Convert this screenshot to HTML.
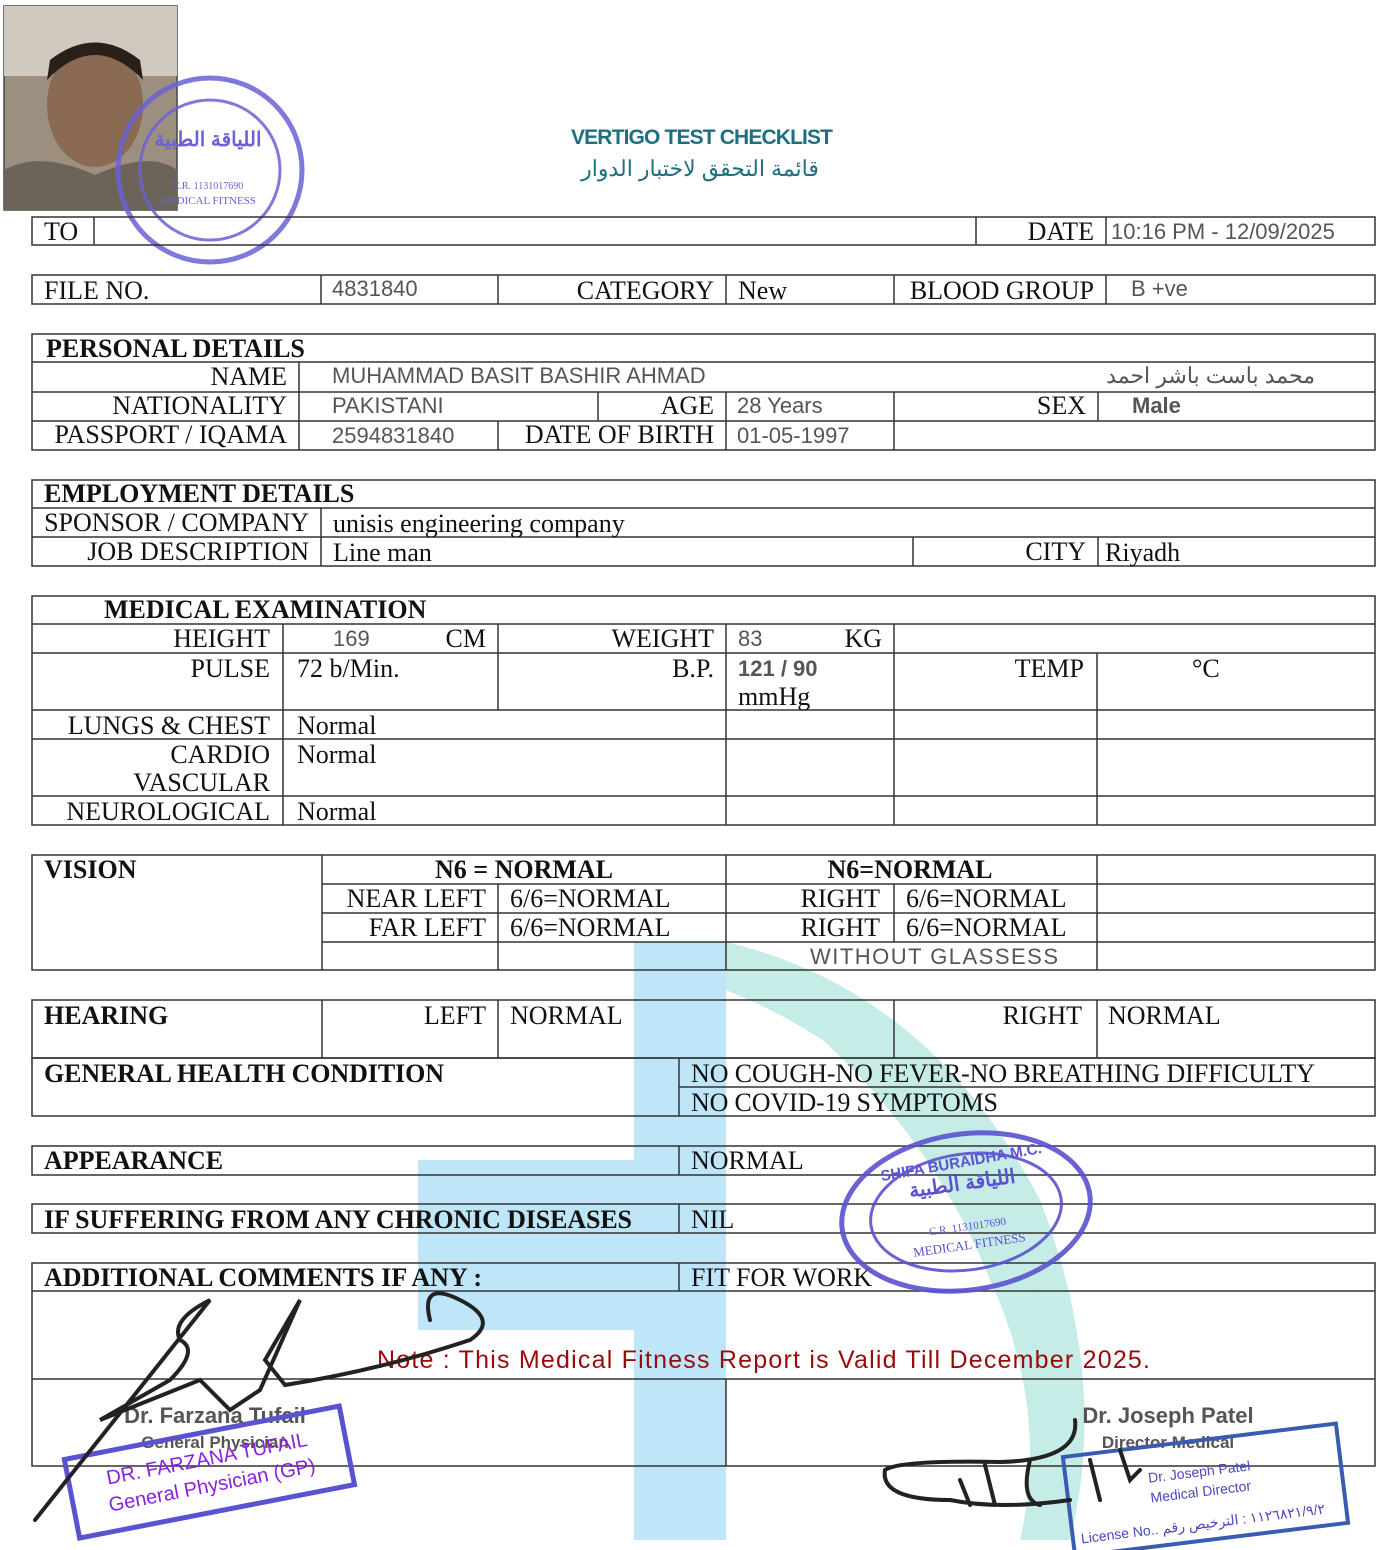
<!DOCTYPE html>
<html><head><meta charset="utf-8"><style>
html,body{margin:0;padding:0;background:#fff;}
svg{display:block}
.s{font-family:"Liberation Serif",serif;font-size:26px;fill:#111}
.b{font-weight:bold}
.v{font-family:"Liberation Sans",sans-serif;font-size:22px;fill:#555}
.ar{font-family:"Liberation Sans","Noto Sans CJK SC",sans-serif}
</style></head><body>
<svg width="1400" height="1550" viewBox="0 0 1400 1550" xmlns="http://www.w3.org/2000/svg">
<!-- watermark -->
<rect x="634" y="942" width="92" height="598" fill="#bfe6f8"/>
<rect x="418" y="1160" width="308" height="170" fill="#bfe6f8"/>
<path d="M726 942 Q930 990 1040 1200 Q1110 1380 1070 1540 L1040 1540 Q1070 1380 990 1220 Q900 1060 726 990 Z" fill="#c5ece6"/>
<path d="M820 1010 Q990 1150 1040 1300 Q1080 1420 1040 1540 L1020 1540 Q1050 1410 990 1280 Q930 1130 800 1020 Z" fill="#c5ece6"/>
<!-- photo -->
<rect x="4" y="6" width="173" height="204" fill="#9c8f80" stroke="#444" stroke-width="1.5"/>
<rect x="4" y="6" width="173" height="70" fill="#cfc9c0"/>
<ellipse cx="95" cy="105" rx="48" ry="62" fill="#8a6a52"/>
<path d="M47 80 Q95 30 143 80 L140 60 Q95 25 50 60 Z" fill="#2a201a"/>
<path d="M4 210 L4 170 Q40 150 95 175 Q150 150 177 170 L177 210 Z" fill="#6c6458"/>
<!-- top stamp -->
<g fill="none" stroke="#6a62d6" opacity="0.85">
<circle cx="210" cy="170" r="92" stroke-width="5"/>
<circle cx="210" cy="170" r="70" stroke-width="3"/>
</g>
<text x="208" y="146" text-anchor="middle" class="ar" font-size="20" fill="#6a62d6" font-weight="bold">اللياقة الطبية</text>
<text x="208" y="189" text-anchor="middle" font-family="Liberation Serif" font-size="10" fill="#6a62d6">C.R. 1131017690</text>
<text x="208" y="204" text-anchor="middle" font-family="Liberation Serif" font-size="11" fill="#6a62d6">MEDICAL FITNESS</text>
<!-- title -->
<text x="702" y="144" text-anchor="middle" font-family="Liberation Sans" font-weight="bold" font-size="21" fill="#1e6f80" textLength="262">VERTIGO TEST CHECKLIST</text>
<text x="700" y="176" text-anchor="middle" class="ar" font-size="22" fill="#1e6f80">قائمة التحقق لاختبار الدوار</text>

<g stroke="#333" stroke-width="1.5" fill="none">
<rect x="32" y="217" width="1343" height="28"/>
<path d="M94 217V245M976 217V245M1106 217V245"/>
<rect x="32" y="275" width="1343" height="29"/>
<path d="M321 275V304M498 275V304M726 275V304M894 275V304M1106 275V304"/>
<rect x="32" y="334" width="1343" height="116"/>
<path d="M32 362H1375M32 392H1375M32 421H1375M299 362V450M598 392V421M726 392V450M894 392V450M1098 392V421M498 421V450"/>
<rect x="32" y="480" width="1343" height="86"/>
<path d="M32 508H1375M32 537H1375M321 508V566M913 537V566M1098 537V566"/>
<rect x="32" y="596" width="1343" height="229"/>
<path d="M32 624H1375M32 653H1375M32 710H1375M32 739H1375M32 796H1375M283 624V825M498 624V710M726 624V825M894 624V825M1097 653V825"/>
<rect x="32" y="855" width="1343" height="115"/>
<path d="M322 884H1375M322 913H1375M322 942H1375M322 855V970M498 884V970M726 855V970M894 884V942M1097 855V970"/>
<rect x="32" y="1000" width="1343" height="58"/>
<path d="M322 1000V1058M498 1000V1058M894 1000V1058M1097 1000V1058"/>
<rect x="32" y="1058" width="1343" height="58"/>
<path d="M679 1058V1116M679 1087H1375"/>
<rect x="32" y="1146" width="1343" height="29"/>
<path d="M679 1146V1175"/>
<rect x="32" y="1204" width="1343" height="29"/>
<path d="M679 1204V1233"/>
<rect x="32" y="1263" width="1343" height="203"/>
<path d="M32 1291H1375M32 1379H1375M679 1263V1291M726 1379V1466"/>
</g>

<text x="44" y="240" class="s">TO</text>
<text x="1094" y="240" class="s" text-anchor="end">DATE</text>
<text x="1111" y="239" class="v">10:16 PM - 12/09/2025</text>
<text x="44" y="299" class="s">FILE NO.</text>
<text x="332" y="296" class="v">4831840</text>
<text x="714" y="299" class="s" text-anchor="end">CATEGORY</text>
<text x="738" y="299" class="s">New</text>
<text x="1094" y="299" class="s" text-anchor="end">BLOOD GROUP</text>
<text x="1131" y="296" class="v">B +ve</text>

<text x="46" y="357" class="s b">PERSONAL DETAILS</text>
<text x="287" y="385" class="s" text-anchor="end">NAME</text>
<text x="332" y="383" class="v">MUHAMMAD BASIT BASHIR AHMAD</text>
<text x="1315" y="383" class="v ar" text-anchor="end">محمد باست باشر احمد</text>
<text x="287" y="414" class="s" text-anchor="end">NATIONALITY</text>
<text x="332" y="413" class="v">PAKISTANI</text>
<text x="714" y="414" class="s" text-anchor="end">AGE</text>
<text x="737" y="413" class="v">28 Years</text>
<text x="1086" y="414" class="s" text-anchor="end">SEX</text>
<text x="1132" y="413" class="v" font-weight="bold">Male</text>
<text x="287" y="443" class="s" text-anchor="end">PASSPORT / IQAMA</text>
<text x="332" y="443" class="v">2594831840</text>
<text x="714" y="443" class="s" text-anchor="end">DATE OF BIRTH</text>
<text x="737" y="443" class="v">01-05-1997</text>

<text x="44" y="502" class="s b">EMPLOYMENT DETAILS</text>
<text x="309" y="531" class="s" text-anchor="end">SPONSOR / COMPANY</text>
<text x="333" y="532" class="s" font-size="31">unisis engineering company</text>
<text x="309" y="560" class="s" text-anchor="end">JOB DESCRIPTION</text>
<text x="333" y="561" class="s" font-size="31">Line man</text>
<text x="1086" y="560" class="s" text-anchor="end">CITY</text>
<text x="1105" y="561" class="s" font-size="31">Riyadh</text>

<text x="104" y="618" class="s b">MEDICAL EXAMINATION</text>
<text x="270" y="647" class="s" text-anchor="end">HEIGHT</text>
<text x="333" y="646" class="v">169</text>
<text x="486" y="647" class="s" text-anchor="end">CM</text>
<text x="714" y="647" class="s" text-anchor="end">WEIGHT</text>
<text x="738" y="646" class="v">83</text>
<text x="882" y="647" class="s" text-anchor="end">KG</text>
<text x="270" y="677" class="s" text-anchor="end">PULSE</text>
<text x="297" y="677" class="s">72 b/Min.</text>
<text x="714" y="677" class="s" text-anchor="end">B.P.</text>
<text x="738" y="676" class="v" font-weight="bold">121 / 90</text>
<text x="738" y="705" class="s">mmHg</text>
<text x="1084" y="677" class="s" text-anchor="end">TEMP</text>
<text x="1192" y="677" class="s">°C</text>
<text x="270" y="734" class="s" text-anchor="end">LUNGS &amp; CHEST</text>
<text x="297" y="734" class="s">Normal</text>
<text x="270" y="763" class="s" text-anchor="end">CARDIO</text>
<text x="297" y="763" class="s">Normal</text>
<text x="270" y="791" class="s" text-anchor="end">VASCULAR</text>
<text x="270" y="820" class="s" text-anchor="end">NEUROLOGICAL</text>
<text x="297" y="820" class="s">Normal</text>

<text x="44" y="878" class="s b">VISION</text>
<text x="524" y="878" class="s b" text-anchor="middle">N6 = NORMAL</text>
<text x="910" y="878" class="s b" text-anchor="middle">N6=NORMAL</text>
<text x="486" y="907" class="s" text-anchor="end">NEAR LEFT</text>
<text x="510" y="907" class="s">6/6=NORMAL</text>
<text x="880" y="907" class="s" text-anchor="end">RIGHT</text>
<text x="906" y="907" class="s">6/6=NORMAL</text>
<text x="486" y="936" class="s" text-anchor="end">FAR LEFT</text>
<text x="510" y="936" class="s">6/6=NORMAL</text>
<text x="880" y="936" class="s" text-anchor="end">RIGHT</text>
<text x="906" y="936" class="s">6/6=NORMAL</text>
<text x="810" y="964" class="v" fill="#444" textLength="248">WITHOUT GLASSESS</text>

<text x="44" y="1024" class="s b">HEARING</text>
<text x="486" y="1024" class="s" text-anchor="end">LEFT</text>
<text x="510" y="1024" class="s">NORMAL</text>
<text x="1082" y="1024" class="s" text-anchor="end">RIGHT</text>
<text x="1108" y="1024" class="s">NORMAL</text>
<text x="44" y="1082" class="s b" textLength="400">GENERAL HEALTH CONDITION</text>
<text x="691" y="1082" class="s" textLength="624">NO COUGH-NO FEVER-NO BREATHING DIFFICULTY</text>
<text x="691" y="1111" class="s" textLength="307">NO COVID-19 SYMPTOMS</text>
<text x="44" y="1169" class="s b">APPEARANCE</text>
<text x="691" y="1169" class="s">NORMAL</text>
<text x="44" y="1228" class="s b" textLength="588">IF SUFFERING FROM ANY CHRONIC DISEASES</text>
<text x="691" y="1228" class="s">NIL</text>
<text x="44" y="1286" class="s b" textLength="438">ADDITIONAL COMMENTS IF ANY :</text>
<text x="691" y="1286" class="s">FIT FOR WORK</text>

<text x="377" y="1368" font-family="Liberation Sans" font-size="25" fill="#9b0a0a" textLength="773">Note : This Medical Fitness Report is Valid Till December 2025.</text>

<g fill="none" stroke="#5a52d0" opacity="0.9">
<ellipse cx="966" cy="1212" rx="125" ry="78" stroke-width="5" transform="rotate(-8 966 1212)"/>
<ellipse cx="966" cy="1212" rx="96" ry="58" stroke-width="3" transform="rotate(-8 966 1212)"/>
</g>
<text x="962" y="1167" text-anchor="middle" font-family="Liberation Sans" font-weight="bold" font-size="15" fill="#5a52d0" transform="rotate(-10 962 1167)">SHIFA BURAIDHA M.C.</text>
<text x="963" y="1190" text-anchor="middle" class="ar" font-weight="bold" font-size="20" fill="#5a52d0" transform="rotate(-8 963 1190)">اللياقة الطبية</text>
<text x="968" y="1230" text-anchor="middle" font-family="Liberation Serif" font-size="11" fill="#5a52d0" transform="rotate(-8 968 1230)">C.R. 1131017690</text>
<text x="970" y="1249" text-anchor="middle" font-family="Liberation Serif" font-size="13" fill="#5a52d0" transform="rotate(-8 970 1249)">MEDICAL FITNESS</text>

<text x="215" y="1423" text-anchor="middle" font-family="Liberation Sans" font-weight="bold" font-size="22" fill="#555">Dr. Farzana Tufail</text>
<text x="215" y="1448" text-anchor="middle" font-family="Liberation Sans" font-weight="bold" font-size="17" fill="#555">General Physician</text>
<g transform="rotate(-11 210 1475)">
<rect x="70" y="1432" width="280" height="80" fill="none" stroke="#5a52d0" stroke-width="5"/>
<text x="210" y="1465" text-anchor="middle" font-family="Liberation Sans" font-size="20" fill="#8a1ee0">DR. FARZANA TUFAIL</text>
<text x="210" y="1492" text-anchor="middle" font-family="Liberation Sans" font-size="20" fill="#8a1ee0">General Physician (GP)</text>
</g>
<text x="1168" y="1423" text-anchor="middle" font-family="Liberation Sans" font-weight="bold" font-size="22" fill="#555">Dr. Joseph Patel</text>
<text x="1168" y="1448" text-anchor="middle" font-family="Liberation Sans" font-weight="bold" font-size="17" fill="#555">Director Medical</text>
<g transform="rotate(-7 1205 1490)">
<rect x="1068" y="1440" width="275" height="100" fill="none" stroke="#3a5cb0" stroke-width="4"/>
<text x="1150" y="1476" font-family="Liberation Sans" font-size="14" fill="#4a48c0">Dr. Joseph Patel</text>
<text x="1150" y="1496" font-family="Liberation Sans" font-size="14" fill="#4a48c0">Medical Director</text>
<text x="1076" y="1528" font-family="Liberation Sans" font-size="14" fill="#4a48c0">License No.. ١١٢٦٨٢١/٩/٢ : الترخيص رقم</text>
</g>
<g fill="none" stroke="#222" stroke-width="4" stroke-linecap="round">
<path d="M35 1520 L210 1300 Q170 1320 180 1340 Q200 1350 170 1380 L100 1420 Q150 1400 200 1380 L230 1410 L260 1390 L300 1300 L265 1360 L285 1385 Q380 1370 470 1340 Q500 1320 460 1300 Q420 1280 430 1320"/>
<path d="M1075 1420 Q1080 1460 1000 1462 Q900 1460 885 1470 Q880 1500 950 1500 Q1000 1510 1070 1500 M960 1480 L970 1505 M985 1465 L995 1505 M1030 1460 Q1020 1500 1040 1505 M1090 1460 L1100 1500 M1120 1450 L1130 1480 L1140 1470"/>
</g>
</svg>
</body></html>
